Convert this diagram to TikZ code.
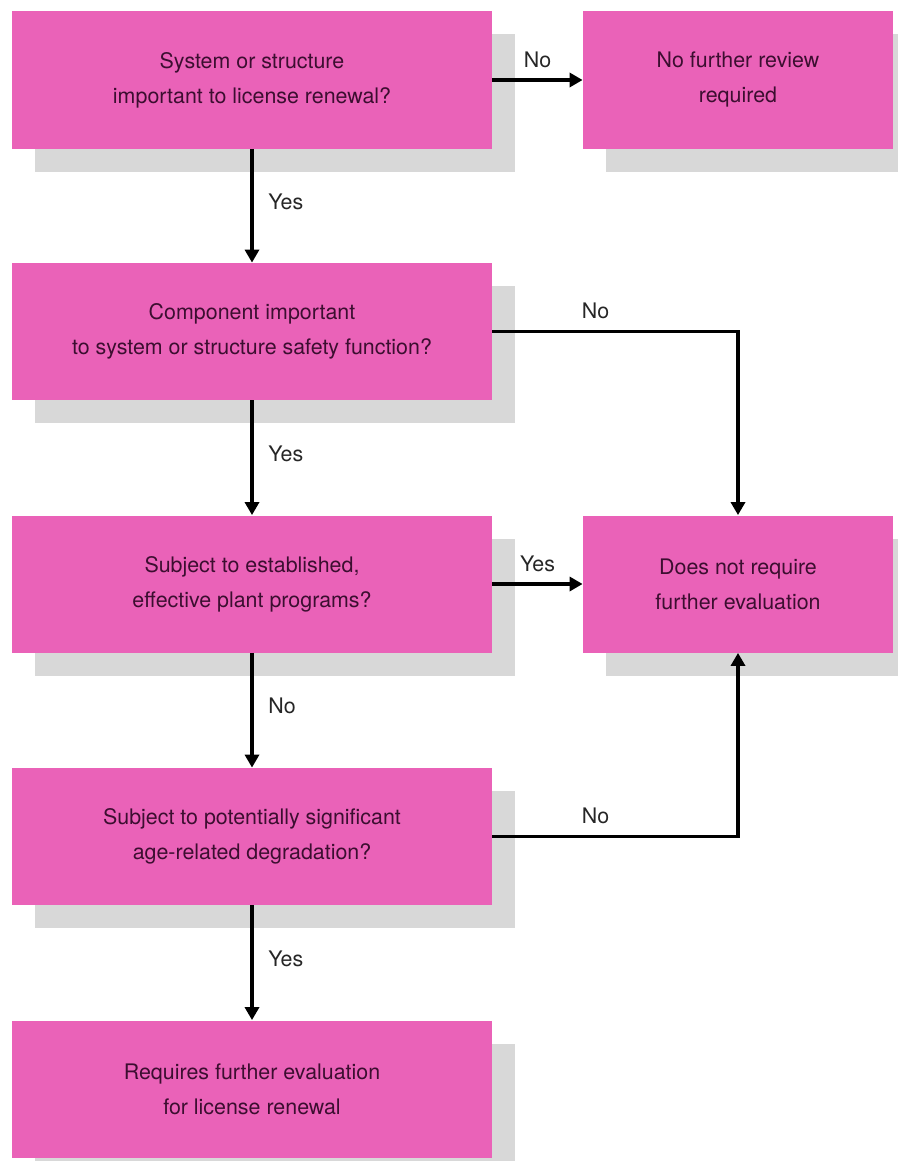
\documentclass[tikz,border=0pt]{standalone}
\usepackage{fontspec}
\setmainfont{TeX Gyre Heros}
\usetikzlibrary{arrows.meta,shadows}
\definecolor{boxpink}{RGB}{234,98,184}
\definecolor{boxtext}{RGB}{60,14,48}
\definecolor{shadowgray}{RGB}{216,216,216}
\tikzset{
  box/.style={rectangle, fill=boxpink, text=boxtext, inner sep=0pt, align=center,
    minimum height=68.5pt, font=\fontsize{10.7}{17.5}\selectfont,
    drop shadow={shadow xshift=11.5pt, shadow yshift=-11.5pt, fill=shadowgray, opacity=1}},
  qbox/.style={box, minimum width=240pt},
  rbox/.style={box, minimum width=155pt},
  arr/.style={line width=1.7pt, -{Triangle[length=6.5pt,width=7pt]}},
  lbl/.style={font=\fontsize{10.7}{12}\selectfont, text=black!85}
}
\begin{document}
\begin{tikzpicture}[x=0.5pt,y=-0.5pt]
        \useasboundingbox (0,0) rectangle (898,1161);

        % questions on the left
        \node[qbox] (q1) at (252,80) {System or structure\\important to license renewal?};
        \node[qbox] (q2) at (252,331.5) {Component important\\to system or structure safety function?};
        \node[qbox] (q3) at (252,584) {Subject to established,\\effective plant programs?};
        \node[qbox] (q4) at (252,836.5) {Subject to potentially significant\\age-related degradation?};
        \node[qbox] (q5) at (252,1089) {Requires further evaluation\\for license renewal};

        % outcomes on the right
        \node[rbox] (r1) at (738,80) {No further review\\required};
        \node[rbox] (r2) at (738,584) {Does not require\\further evaluation};

        \draw[arr] (q1) -- node[lbl,above=2pt]{No} (r1);
        \draw[arr] (q2.east) -| node[lbl,pos=0.21,above=2pt]{No} (r2.north);
        \draw[arr] (q3) -- node[lbl,above=2pt]{Yes} (r2);
        \draw[arr] (q4.east) -| node[lbl,pos=0.21,above=2pt]{No} (r2.south);

        \draw[arr] (q1) -- node[lbl,right=4pt,yshift=2pt]{Yes} (q2);
        \draw[arr] (q2) -- node[lbl,right=4pt,yshift=2pt]{Yes} (q3);
        \draw[arr] (q3) -- node[lbl,right=4pt,yshift=2pt]{No} (q4);
        \draw[arr] (q4) -- node[lbl,right=4pt,yshift=2pt]{Yes} (q5);

      \end{tikzpicture}
\end{document}
